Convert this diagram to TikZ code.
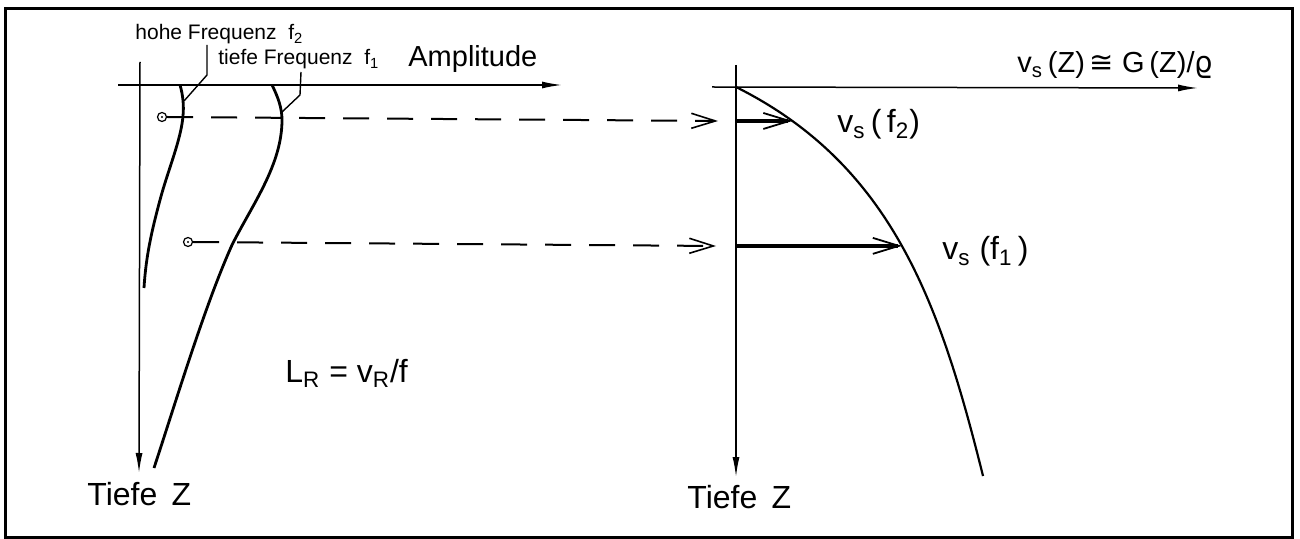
\documentclass[tikz,border=0pt]{standalone}
\usepackage{fontspec}
\setmainfont{Liberation Sans}
\newfontfamily\symfont{DejaVu Sans}
\usetikzlibrary{arrows.meta}
\begin{document}
\begin{tikzpicture}[x=0.5pt,y=-0.5pt,
  axis/.style={line width=0.75pt,-{Latex[length=10pt,width=3.5pt]}},
  lcurve/.style={line width=1.4pt},
  rcurve/.style={line width=1.1pt},
  leader/.style={line width=0.7pt},
  dashline/.style={line width=1pt,dash pattern=on 13pt off 9pt,-{Straight Barb[length=12pt,width=7.5pt,line width=0.8pt]}},
  vsarrow/.style={line width=2.2pt,-{Straight Barb[length=13pt,width=8pt,line width=0.9pt]}},
  biglbl/.style={anchor=base west,inner sep=0pt,font=\fontsize{16}{19}\selectfont},
  midlbl/.style={anchor=base west,inner sep=0pt,font=\fontsize{14.5}{17}\selectfont},
  smalllbl/.style={anchor=base west,inner sep=0pt,font=\fontsize{10.5}{12}\selectfont},
  marker/.style={circle,draw,line width=0.6pt,minimum size=4.5pt,inner sep=0pt}
]
\useasboundingbox (0,0) rectangle (1300,539);
% frame
\draw[line width=1.5pt] (5,9) rectangle (1292,537);

% ---------- left diagram ----------
\coordinate (LA0) at (140,62); \coordinate (LA1) at (139,473);
\draw[axis] (LA0) -- (LA1);
\coordinate (LH0) at (118,85); \coordinate (LH1) at (562,85);
\draw[axis] (LH0) -- (LH1);

% high frequency curve f2
\draw[lcurve] (180,85) .. controls (183,95) and (184,106) .. (183,116)
  .. controls (181,140) and (168,170) .. (160,200)
  .. controls (152,230) and (146,255) .. (144,288);
% low frequency curve f1
\draw[lcurve] (272,85) .. controls (278,97) and (282,108) .. (282,120)
  .. controls (282,165) and (252,205) .. (232,245)
  .. controls (205,305) and (177,398) .. (154,468);

\node[smalllbl] (lhigh) at (135,40) {hohe Frequenz\ \ f\textsubscript{2}};
\node[smalllbl] (llow) at (218,65) {tiefe Frequenz\ \ f\textsubscript{1}};
\node[midlbl] (lamp) at (408,67) {Amplitude};

\coordinate (h0) at (184,101); \coordinate (h1) at (207,75); \coordinate (h2) at (207,45);
\draw[leader] (h0) -- (h1) -- (h2);
\coordinate (t0) at (282,112); \coordinate (t1) at (300,95); \coordinate (t2) at (301,72);
\draw[leader] (t0) -- (t1) -- (t2);

\node[biglbl] (ltiefe) at (87,505) {Tiefe\ \,Z};
\node[biglbl] (lLR) at (285,382) {L\textsubscript{R} = v\textsubscript{R}/f};

% ---------- right diagram ----------
\coordinate (RA0) at (736,65); \coordinate (RA1) at (736,477);
\draw[axis] (RA0) -- (RA1);
\coordinate (RH0) at (712,87); \coordinate (RH1) at (1198,88);
\draw[axis] (RH0) -- (RH1);

\draw[rcurve] (736,87) .. controls (892,165) and (940,303) .. (983,476)
  coordinate[pos=0.132] (p2) coordinate[pos=0.5] (p1);

\draw[vsarrow] (RA0 |- p2) -- (p2);
\draw[vsarrow] (RA0 |- p1) -- (p1);

% markers and dashed projections
\node[marker] (m1) at (162,117) {};
\fill (m1.center) circle (0.6pt);
\node[marker] (m2) at (188,242) {};
\fill (m2.center) circle (0.6pt);

\coordinate (a1) at (718,121);
\coordinate (a2) at (716,246);
\draw[dashline] (m1.east) -- (a1);
\draw[dashline] (m2.east) -- (a2);

\node[biglbl] (lvs2) at (837,133) {v\textsubscript{s}\,(\,f\textsubscript{2})};
\node[biglbl] (lvs1) at (942,260) {v\textsubscript{s}\ (f\textsubscript{1}\,)};
\node[midlbl] (lvsz) at (1017,73) {v\textsubscript{s}\,(Z)\,{\symfont ≅}\ G\,(Z)/{\symfont ϱ}};
\node[biglbl] (rtiefe) at (687,508) {Tiefe\ \,Z};
\end{tikzpicture}
\end{document}
